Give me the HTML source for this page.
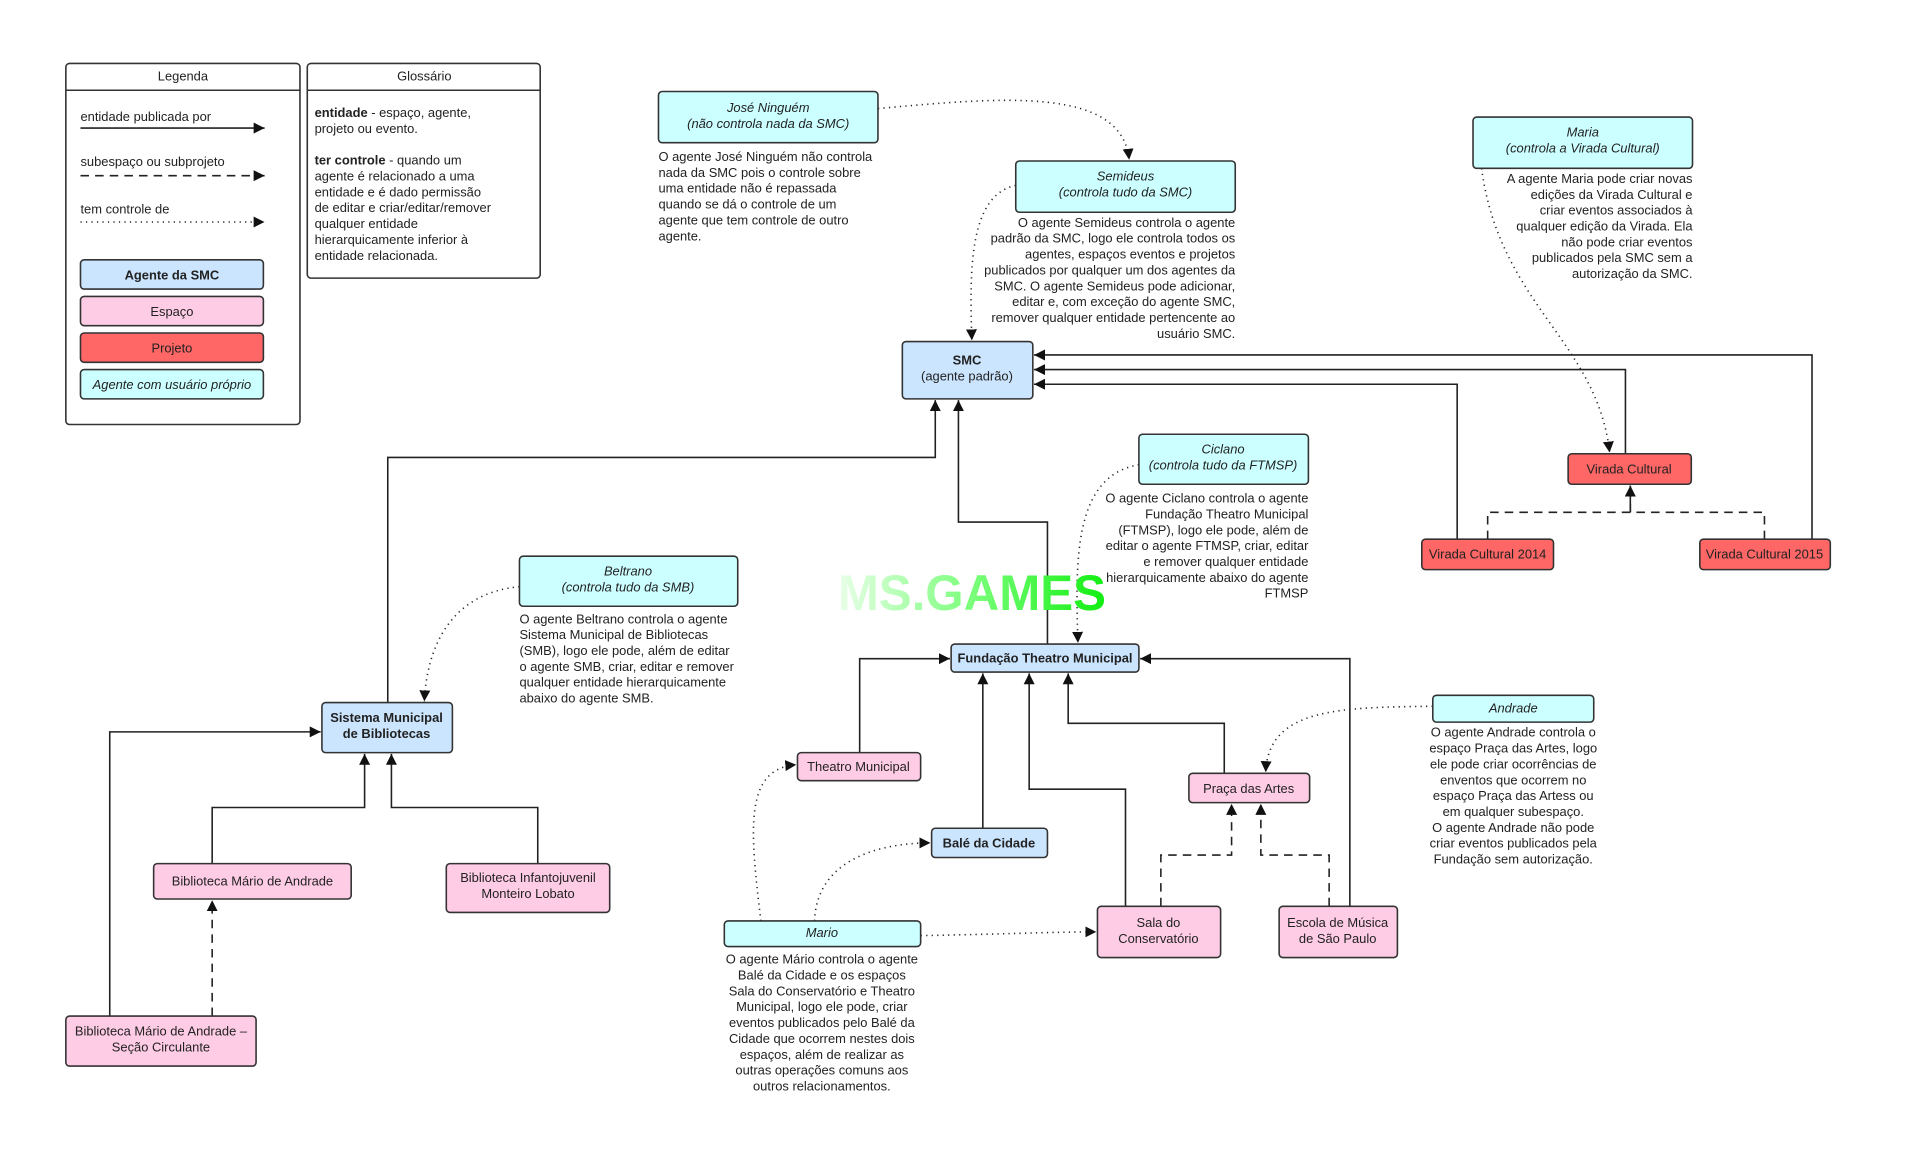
<!DOCTYPE html>
<html><head><meta charset="utf-8"><style>
html,body{margin:0;padding:0;background:#fff;}
svg{display:block;}
text{font-family:"Liberation Sans",sans-serif;font-size:10.6px;fill:#222;}
.i{font-style:italic;}
.b{font-weight:bold;}
.n{stroke:#333;stroke-width:1.3;}
.l{fill:none;stroke:#222;stroke-width:1.3;}
.d{fill:none;stroke:#222;stroke-width:1.3;stroke-dasharray:7,5;}
.o{fill:none;stroke:#222;stroke-width:1.3;stroke-dasharray:1,3.5;}
</style></head><body>
<svg width="1912" height="1171" viewBox="0 0 1568 960" preserveAspectRatio="none" xmlns="http://www.w3.org/2000/svg">
<defs>
<marker id="a" viewBox="0 0 10 10" refX="10" refY="5" markerWidth="9" markerHeight="9" markerUnits="userSpaceOnUse" orient="auto"><path d="M0,0L10,5L0,10z" fill="#111"/></marker>
<linearGradient id="g" x1="0" x2="1"><stop offset="0" stop-color="#e8ffe8"/><stop offset="0.5" stop-color="#7bff7b"/><stop offset="1" stop-color="#11ee11"/></linearGradient>
</defs>

<!-- Legend -->
<rect x="54" y="52" width="192" height="296" rx="3" fill="#fff" class="n"/>
<line x1="54" y1="74" x2="246" y2="74" class="n"/>
<text x="150" y="66" text-anchor="middle">Legenda</text>
<text x="66" y="99">entidade publicada por</text>
<line x1="66" y1="105" x2="217" y2="105" class="l" marker-end="url(#a)"/>
<text x="66" y="136">subespaço ou subprojeto</text>
<line x1="66" y1="144" x2="217" y2="144" class="d" marker-end="url(#a)"/>
<text x="66" y="175">tem controle de</text>
<line x1="66" y1="182" x2="217" y2="182" class="o" marker-end="url(#a)"/>
<rect x="66" y="213" width="150" height="24" rx="3" fill="#cce5ff" class="n"/>
<text x="141" y="229" text-anchor="middle" class="b">Agente da SMC</text>
<rect x="66" y="243" width="150" height="24" rx="3" fill="#ffcce6" class="n"/>
<text x="141" y="259" text-anchor="middle">Espaço</text>
<rect x="66" y="273" width="150" height="24" rx="3" fill="#ff6666" class="n"/>
<text x="141" y="289" text-anchor="middle">Projeto</text>
<rect x="66" y="303" width="150" height="24" rx="3" fill="#ccffff" class="n"/>
<text x="141" y="319" text-anchor="middle" class="i">Agente com usuário próprio</text>

<!-- Glossario -->
<rect x="252" y="52" width="191" height="176" rx="3" fill="#fff" class="n"/>
<line x1="252" y1="74" x2="443" y2="74" class="n"/>
<text x="348" y="66" text-anchor="middle">Glossário</text>
<text x="258" y="96"><tspan class="b">entidade</tspan> - espaço, agente,<tspan x="258" dy="13">projeto ou evento.</tspan><tspan x="258" dy="26" class="b">ter controle</tspan> - quando um<tspan x="258" dy="13">agente é relacionado a uma</tspan><tspan x="258" dy="13">entidade e é dado permissão</tspan><tspan x="258" dy="13">de editar e criar/editar/remover</tspan><tspan x="258" dy="13">qualquer entidade</tspan><tspan x="258" dy="13">hierarquicamente inferior à</tspan><tspan x="258" dy="13">entidade relacionada.</tspan></text>

<!-- connectors solid -->
<path d="M318,576V375H767V328" class="l" marker-end="url(#a)"/>
<path d="M859,528V428H786V328" class="l" marker-end="url(#a)"/>
<path d="M1195,442V315H848" class="l" marker-end="url(#a)"/>
<path d="M1333,372V303H848" class="l" marker-end="url(#a)"/>
<path d="M1486,442V291H848" class="l" marker-end="url(#a)"/>
<path d="M1220,442V420H1337" class="d"/>
<path d="M1447,442V420H1337V398" class="d"/>
<path d="M1337,420V398" class="l" marker-end="url(#a)"/>
<path d="M705,617V540H779" class="l" marker-end="url(#a)"/>
<path d="M806,679V552" class="l" marker-end="url(#a)"/>
<path d="M923,743V647H844V552" class="l" marker-end="url(#a)"/>
<path d="M1004,634V593H876V552" class="l" marker-end="url(#a)"/>
<path d="M1107,743V540H935" class="l" marker-end="url(#a)"/>
<path d="M952,743V701H1010V659" class="d" marker-end="url(#a)"/>
<path d="M1090,743V701H1034V659" class="d" marker-end="url(#a)"/>
<path d="M174,708V662H299V618" class="l" marker-end="url(#a)"/>
<path d="M441,708V662H321V618" class="l" marker-end="url(#a)"/>
<path d="M90,833V600H263" class="l" marker-end="url(#a)"/>
<path d="M174,833V738" class="d" marker-end="url(#a)"/>

<!-- dotted -->
<path d="M720,89C820,80 920,70 926,131" class="o" marker-end="url(#a)"/>
<path d="M833,152C795,160 795,220 797,279" class="o" marker-end="url(#a)"/>
<path d="M1215,138C1230,250 1310,280 1320,371" class="o" marker-end="url(#a)"/>
<path d="M934,381C880,390 882,460 884,527" class="o" marker-end="url(#a)"/>
<path d="M426,481C370,486 350,530 348,575" class="o" marker-end="url(#a)"/>
<path d="M1175,579C1100,580 1040,580 1038,633" class="o" marker-end="url(#a)"/>
<path d="M624,755C615,680 610,630 653,627" class="o" marker-end="url(#a)"/>
<path d="M668,755C670,700 730,691 763,691" class="o" marker-end="url(#a)"/>
<path d="M755,767C820,766 860,764 899,764" class="o" marker-end="url(#a)"/>

<!-- nodes -->
<rect x="540" y="75" width="180" height="42" rx="3" fill="#ccffff" class="n"/>
<text x="630" y="92" text-anchor="middle" class="i">José Ninguém<tspan x="630" dy="13">(não controla nada da SMC)</tspan></text>
<text x="540" y="132">O agente José Ninguém não controla<tspan x="540" dy="13">nada da SMC pois o controle sobre</tspan><tspan x="540" dy="13">uma entidade não é repassada</tspan><tspan x="540" dy="13">quando se dá o controle de um</tspan><tspan x="540" dy="13">agente que tem controle de outro</tspan><tspan x="540" dy="13">agente.</tspan></text>

<rect x="833" y="132" width="180" height="42" rx="3" fill="#ccffff" class="n"/>
<text x="923" y="148" text-anchor="middle" class="i">Semideus<tspan x="923" dy="13">(controla tudo da SMC)</tspan></text>
<text x="1013" y="186" text-anchor="end">O agente Semideus controla o agente<tspan x="1013" dy="13">padrão da SMC, logo ele controla todos os</tspan><tspan x="1013" dy="13">agentes, espaços eventos e projetos</tspan><tspan x="1013" dy="13">publicados por qualquer um dos agentes da</tspan><tspan x="1013" dy="13">SMC. O agente Semideus pode adicionar,</tspan><tspan x="1013" dy="13">editar e, com exceção do agente SMC,</tspan><tspan x="1013" dy="13">remover qualquer entidade pertencente ao</tspan><tspan x="1013" dy="13">usuário SMC.</tspan></text>

<rect x="1208" y="96" width="180" height="42" rx="3" fill="#ccffff" class="n"/>
<text x="1298" y="112" text-anchor="middle" class="i">Maria<tspan x="1298" dy="13">(controla a Virada Cultural)</tspan></text>
<text x="1388" y="150" text-anchor="end">A agente Maria pode criar novas<tspan x="1388" dy="13">edições da Virada Cultural e</tspan><tspan x="1388" dy="13">criar eventos associados à</tspan><tspan x="1388" dy="13">qualquer edição da Virada. Ela</tspan><tspan x="1388" dy="13">não pode criar eventos</tspan><tspan x="1388" dy="13">publicados pela SMC sem a</tspan><tspan x="1388" dy="13">autorização da SMC.</tspan></text>

<rect x="740" y="280" width="107" height="47" rx="3" fill="#cce5ff" class="n"/>
<text x="793" y="299" text-anchor="middle" class="b">SMC</text>
<text x="793" y="312" text-anchor="middle">(agente padrão)</text>

<rect x="934" y="356" width="139" height="41" rx="3" fill="#ccffff" class="n"/>
<text x="1003" y="372" text-anchor="middle" class="i">Ciclano<tspan x="1003" dy="13">(controla tudo da FTMSP)</tspan></text>
<text x="1073" y="412" text-anchor="end">O agente Ciclano controla o agente<tspan x="1073" dy="13">Fundação Theatro Municipal</tspan><tspan x="1073" dy="13">(FTMSP), logo ele pode, além de</tspan><tspan x="1073" dy="13">editar o agente FTMSP, criar, editar</tspan><tspan x="1073" dy="13">e remover qualquer entidade</tspan><tspan x="1073" dy="13">hierarquicamente abaixo do agente</tspan><tspan x="1073" dy="13">FTMSP</tspan></text>

<rect x="1286" y="372" width="101" height="25" rx="3" fill="#ff6666" class="n"/>
<text x="1336" y="388" text-anchor="middle">Virada Cultural</text>
<rect x="1166" y="442" width="108" height="25" rx="3" fill="#ff6666" class="n"/>
<text x="1220" y="458" text-anchor="middle">Virada Cultural 2014</text>
<rect x="1394" y="442" width="107" height="25" rx="3" fill="#ff6666" class="n"/>
<text x="1447" y="458" text-anchor="middle">Virada Cultural 2015</text>

<rect x="426" y="456" width="179" height="41" rx="3" fill="#ccffff" class="n"/>
<text x="515" y="472" text-anchor="middle" class="i">Beltrano<tspan x="515" dy="13">(controla tudo da SMB)</tspan></text>
<text x="426" y="511">O agente Beltrano controla o agente<tspan x="426" dy="13">Sistema Municipal de Bibliotecas</tspan><tspan x="426" dy="13">(SMB), logo ele pode, além de editar</tspan><tspan x="426" dy="13">o agente SMB, criar, editar e remover</tspan><tspan x="426" dy="13">qualquer entidade hierarquicamente</tspan><tspan x="426" dy="13">abaixo do agente SMB.</tspan></text>

<rect x="780" y="528" width="154" height="23" rx="3" fill="#cce5ff" class="n"/>
<text x="857" y="543" text-anchor="middle" class="b">Fundação Theatro Municipal</text>

<rect x="264" y="576" width="107" height="41" rx="3" fill="#cce5ff" class="n"/>
<text x="317" y="592" text-anchor="middle" class="b">Sistema Municipal<tspan x="317" dy="13">de Bibliotecas</tspan></text>

<rect x="654" y="617" width="101" height="23" rx="3" fill="#ffcce6" class="n"/>
<text x="704" y="632" text-anchor="middle">Theatro Municipal</text>
<rect x="975" y="634" width="99" height="24" rx="3" fill="#ffcce6" class="n"/>
<text x="1024" y="650" text-anchor="middle">Praça das Artes</text>

<rect x="1175" y="570" width="132" height="22" rx="3" fill="#ccffff" class="n"/>
<text x="1241" y="584" text-anchor="middle" class="i">Andrade</text>
<text x="1241" y="604" text-anchor="middle">O agente Andrade controla o<tspan x="1241" dy="13">espaço Praça das Artes, logo</tspan><tspan x="1241" dy="13">ele pode criar ocorrências de</tspan><tspan x="1241" dy="13">enventos que ocorrem no</tspan><tspan x="1241" dy="13">espaço Praça das Artess ou</tspan><tspan x="1241" dy="13">em qualquer subespaço.</tspan><tspan x="1241" dy="13">O agente Andrade não pode</tspan><tspan x="1241" dy="13">criar eventos publicados pela</tspan><tspan x="1241" dy="13">Fundação sem autorização.</tspan></text>

<rect x="764" y="679" width="95" height="24" rx="3" fill="#cce5ff" class="n"/>
<text x="811" y="695" text-anchor="middle" class="b">Balé da Cidade</text>

<rect x="126" y="708" width="162" height="29" rx="3" fill="#ffcce6" class="n"/>
<text x="207" y="726" text-anchor="middle">Biblioteca Mário de Andrade</text>
<rect x="366" y="708" width="134" height="40" rx="3" fill="#ffcce6" class="n"/>
<text x="433" y="723" text-anchor="middle">Biblioteca Infantojuvenil<tspan x="433" dy="13">Monteiro Lobato</tspan></text>

<rect x="594" y="755" width="161" height="21" rx="3" fill="#ccffff" class="n"/>
<text x="674" y="768" text-anchor="middle" class="i">Mario</text>
<text x="674" y="790" text-anchor="middle">O agente Mário controla o agente<tspan x="674" dy="13">Balé da Cidade e os espaços</tspan><tspan x="674" dy="13">Sala do Conservatório e Theatro</tspan><tspan x="674" dy="13">Municipal, logo ele pode, criar</tspan><tspan x="674" dy="13">eventos publicados pelo Balé da</tspan><tspan x="674" dy="13">Cidade que ocorrem nestes dois</tspan><tspan x="674" dy="13">espaços, além de realizar as</tspan><tspan x="674" dy="13">outras operações comuns aos</tspan><tspan x="674" dy="13">outros relacionamentos.</tspan></text>

<rect x="900" y="743" width="101" height="42" rx="3" fill="#ffcce6" class="n"/>
<text x="950" y="760" text-anchor="middle">Sala do<tspan x="950" dy="13">Conservatório</tspan></text>
<rect x="1049" y="743" width="97" height="42" rx="3" fill="#ffcce6" class="n"/>
<text x="1097" y="760" text-anchor="middle">Escola de Música<tspan x="1097" dy="13">de São Paulo</tspan></text>

<rect x="54" y="833" width="156" height="41" rx="3" fill="#ffcce6" class="n"/>
<text x="132" y="849" text-anchor="middle">Biblioteca Mário de Andrade –<tspan x="132" dy="13">Seção Circulante</tspan></text>

<!-- watermark -->
<text x="687" y="500" style="font-size:41px;font-weight:bold;fill:url(#g)" textLength="220" lengthAdjust="spacingAndGlyphs">MS.GAMES</text>
</svg>
</body></html>
